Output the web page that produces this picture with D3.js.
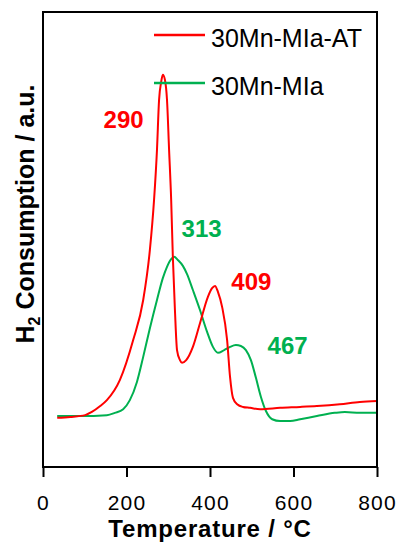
<!DOCTYPE html>
<html>
<head>
<meta charset="utf-8">
<script src="https://cdn.jsdelivr.net/npm/d3@7"></script>
<style>
  html, body { margin: 0; padding: 0; background: #fff; }
  svg { display: block; font-family: Arial, "Liberation Sans", sans-serif; }
</style>
</head>
<body>
<svg id="chart" width="404" height="556"></svg>
<script>
// ---- Data (intensity in arbitrary units) ----
const seriesNames = ["30Mn-MIa-AT", "30Mn-MIa"];
const seriesColors = ["#ff0000", "#00b050"];

const tempAT = [34, 65, 101, 117, 137, 153, 184, 216, 240, 256, 266, 273, 278, 283, 287, 292, 297, 302, 307, 311, 316, 321, 328, 333, 343, 359, 376, 395, 405, 412, 419, 429, 441, 448, 455, 465, 479, 496, 520, 568, 616, 656, 711, 759, 800];
const valAT  = [10.8, 11.0, 11.4, 12.1, 13.4, 14.7, 19.1, 27.9, 36.7, 47.7, 58.7, 69.7, 80.7, 84.6, 86.2, 85.1, 80.7, 69.7, 58.7, 46.2, 34.5, 25.7, 23.5, 22.9, 23.5, 26.4, 31.6, 37.4, 39.3, 39.8, 38.5, 35.2, 27.9, 19.8, 15.2, 13.8, 13.2, 13.0, 12.7, 13.0, 13.2, 13.4, 13.8, 14.3, 14.5];

const tempMIa = [34, 89, 153, 172, 192, 208, 225, 240, 256, 273, 287, 297, 307, 314, 323, 335, 345, 359, 376, 393, 407, 419, 434, 448, 462, 474, 486, 498, 510, 522, 534, 549, 568, 592, 616, 656, 699, 723, 759, 800];
const valMIa  = [11.2, 11.2, 11.4, 11.9, 12.7, 14.7, 18.7, 24.2, 30.5, 36.7, 41.5, 44.0, 45.7, 46.2, 45.5, 44.2, 42.4, 38.9, 34.5, 29.7, 26.4, 25.1, 25.7, 26.4, 26.8, 26.6, 25.7, 23.5, 19.6, 15.4, 12.3, 10.5, 10.1, 10.1, 10.5, 11.2, 11.9, 12.1, 11.9, 11.9];

const xTicks = [0, 200, 400, 600, 800];

// peak annotations
const peakLabels = ["290", "313", "409", "467"];
const peakLabelT = [145, 332, 451, 538];
const peakLabelV = [74.5, 50.5, 38.9, 24.8];
const peakLabelSeries = [0, 1, 0, 1];

// ---- Layout ----
const svg = d3.select("#chart");
const mLeft = 43, mRight = 377, mTop = 12, mBottom = 467;

const x = d3.scaleLinear().domain([0, 800]).range([mLeft, mRight]);
const y = d3.scaleLinear().domain([0, 100]).range([mBottom, mTop]);

// Curves
const line = d3.line().x(d => x(d[0])).y(d => y(d[1])).curve(d3.curveMonotoneX);
const dataAT = tempAT.map((t, i) => [t, valAT[i]]);
const dataMIa = tempMIa.map((t, i) => [t, valMIa[i]]);

svg.append("path").datum(dataMIa).attr("d", line)
  .attr("fill", "none").attr("stroke", seriesColors[1]).attr("stroke-width", 2);
svg.append("path").datum(dataAT).attr("d", line)
  .attr("fill", "none").attr("stroke", seriesColors[0]).attr("stroke-width", 2);

// Frame
svg.append("rect").attr("x", mLeft).attr("y", mTop)
  .attr("width", mRight - mLeft).attr("height", mBottom - mTop)
  .attr("fill", "none").attr("stroke", "#000").attr("stroke-width", 2);

// X axis
const xAxis = d3.axisBottom(x).tickValues(xTicks).tickSize(10).tickPadding(18).tickFormat(d3.format("d"));
const gx = svg.append("g").attr("transform", `translate(0,${mBottom})`).call(xAxis);
gx.select(".domain").remove();
gx.selectAll(".tick line").attr("stroke", "#000").attr("stroke-width", 2);
gx.selectAll(".tick text").attr("font-size", 21).attr("fill", "#000")
  .attr("letter-spacing", 1.2)
  .attr("font-family", "Arial, 'Liberation Sans', sans-serif");

// X title
svg.append("text").attr("x", (mLeft + mRight) / 2).attr("y", 537)
  .attr("text-anchor", "middle").attr("font-size", 24).attr("font-weight", "bold")
  .attr("letter-spacing", 0.8)
  .text("Temperature / °C");

// Y title
const yt = svg.append("text")
  .attr("transform", "translate(34,214) rotate(-90)")
  .attr("text-anchor", "middle").attr("font-size", 25).attr("font-weight", "bold");
yt.append("tspan").text("H");
yt.append("tspan").attr("font-size", 16).attr("dy", 6).text("2");
yt.append("tspan").attr("dy", -6).text(" Consumption  / a.u.");

// Legend
const legY = [35, 83];
seriesNames.forEach((name, i) => {
  svg.append("line").attr("x1", 154).attr("x2", 205).attr("y1", legY[i]).attr("y2", legY[i])
    .attr("stroke", seriesColors[i]).attr("stroke-width", 2.5);
  svg.append("text").attr("x", 211).attr("y", legY[i] + 12)
    .attr("font-size", 25).attr("fill", "#000").text(name);
});

// Peak labels
peakLabels.forEach((lab, i) => {
  svg.append("text").attr("x", x(peakLabelT[i])).attr("y", y(peakLabelV[i]))
    .attr("font-size", 24).attr("font-weight", "bold")
    .attr("fill", seriesColors[peakLabelSeries[i]]).text(lab);
});
</script>
</body>
</html>
